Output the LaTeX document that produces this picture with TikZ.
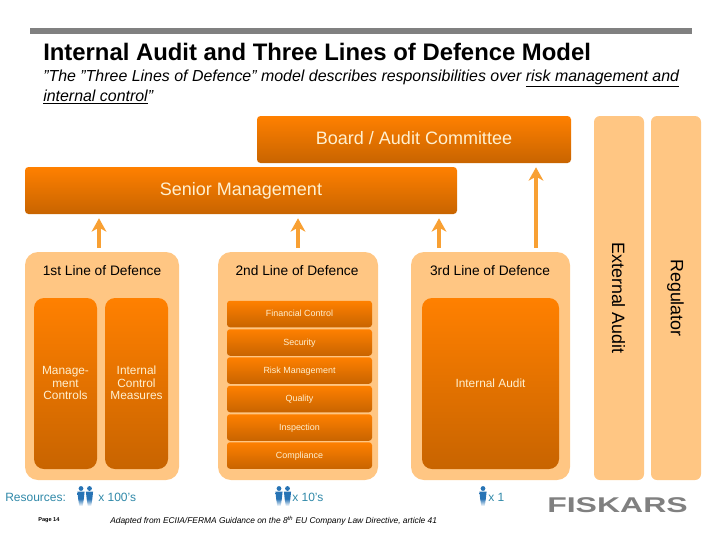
\documentclass[tikz,border=0pt]{standalone}
\usepackage{fontspec}
\setmainfont{Liberation Sans}
\usetikzlibrary{calc,arrows.meta,positioning}
\definecolor{barorange}{HTML}{FF8000}
\definecolor{bardark}{HTML}{C86400}
\definecolor{paleorange}{HTML}{FFC683}
\definecolor{arroworange}{HTML}{F8A033}
\definecolor{creamtext}{HTML}{FFF0D0}
\definecolor{resblue}{HTML}{2F88A8}
\definecolor{rulegray}{HTML}{808080}
\def\u{0.75pt}

\begin{document}
\begin{tikzpicture}[
		x=0.75pt,
		y=-0.75pt,
		line join=round,
		>={Stealth[length=10pt,width=11pt,inset=3pt]},
		bar/.style={top color=barorange, middle color=barorange, bottom color=bardark, text=creamtext, inner sep=0pt, align=center},
		bigbar/.style={bar, rounded corners=3.5*\u, text height=9.8pt, text depth=2.2pt, font=\fontsize{13.5}{15}\selectfont},
		column/.style={bar, rounded corners=10*\u, minimum width=63*\u, minimum height=171*\u, font=\fontsize{8.9}{9.5}\selectfont},
		strip/.style={bar, rounded corners=3*\u, minimum width=145*\u, minimum height=26.5*\u, text height=5pt, text depth=1.2pt, font=\fontsize{6.7}{8}\selectfont},
		panel/.style={fill=paleorange, rounded corners=13*\u, inner sep=0pt},
		side/.style={fill=paleorange, rounded corners=6*\u, inner sep=0pt, minimum width=50*\u, minimum height=364*\u},
		linelab/.style={font=\fontsize{10.3}{12}\selectfont},
		sidelab/.style={rotate=-90, font=\fontsize{13.4}{15}\selectfont},
		uparrow/.style={->, arroworange, line width=3pt, shorten >=4*\u, shorten <=4*\u},
		reslab/.style={text=resblue, inner sep=0pt, font=\fontsize{9}{11}\selectfont},
		person/.pic={
			\fill[resblue!85!blue] (0,-8.5) circle (2.4);
			\shade[top color=resblue!85!blue, bottom color=white, middle color=resblue!85!blue] (-3.6,-5.5) -- (3.6,-5.5) -- (2.8,2) -- (1.7,9) -- (-1.7,9) -- (-2.8,2) -- cycle;
		}
	]
	\useasboundingbox (0,0) rectangle (720,540);
	
	% Header
	\fill[rulegray] (30,28) rectangle (692,34);
	\node[anchor=west, inner sep=0pt, font=\bfseries\fontsize{17.9}{20}\selectfont] (title) at (43,52) {Internal Audit and Three Lines of Defence Model};
	\node[anchor=north west, inner sep=0pt, align=left, font=\itshape\fontsize{11.95}{15}\selectfont] (intro) at (43,69.5) {”The ”Three Lines of Defence” model describes responsibilities over \underline{risk management and}\\\underline{internal control}”};
	
	% Top bars
	\node[bigbar, minimum width=314*\u, minimum height=47*\u] (board) at (414,139.5) {Board / Audit Committee};
	\node[bigbar, minimum width=432*\u, minimum height=47*\u] (senior) at (241,190.5) {Senior Management};
	
	% Panels
	\node[panel, minimum width=154*\u, minimum height=228*\u] (line1) at (102,366) {};
	\node[panel, minimum width=160*\u, minimum height=228*\u] (line2) at (298,366) {};
	\node[panel, minimum width=159*\u, minimum height=228*\u] (line3) at (490.5,366) {};
	\node[side] (external) at (619,298) {};
	\node[side] (regulator) at (676,298) {};
	\node[sidelab] (externallab) at (618.5,298) {External Audit};
	\node[sidelab] (regulatorlab) at (675.5,298) {Regulator};
	
	% Panel titles
	\node[linelab] (title1) at (102,271) {1st Line of Defence};
	\node[linelab] (title2) at (297,271) {2nd Line of Defence};
	\node[linelab] (title3) at (490,271) {3rd Line of Defence};
	
	% First line columns
	\node[column] (mgmt) at (65.5,383.5) {};
	\node[column] (measures) at (136.5,383.5) {};
	\node[text=creamtext, align=center, inner sep=0pt, font=\fontsize{8.9}{9.5}\selectfont] (mgmtlab) at (65.5,383) {Manage-\\ment\\Controls};
	\node[text=creamtext, align=center, inner sep=0pt, font=\fontsize{8.9}{9.5}\selectfont] (measureslab) at (136.5,383) {Internal\\Control\\Measures};
	
	% Second line strips
	\foreach \n/\t/\c in {fin/Financial Control/314, sec/Security/342.5, risk/Risk Management/370.5, qual/Quality/399, insp/Inspection/427.5, comp/Compliance/455.5} {
		\node[strip] (\n) at (299.5,\c) {\t};
	}
	
	% Third line block
	\node[column, minimum width=137*\u] (internal) at (490.5,383.5) {Internal Audit};
	
	% Reporting arrows
	\draw[uparrow] (99,0 |- line1.north) -- (99,0 |- senior.south);
	\draw[uparrow] (298,0 |- line2.north) -- (298,0 |- senior.south);
	\draw[uparrow] (439,0 |- line3.north) -- (439,0 |- senior.south);
	\draw[uparrow] (536,0 |- line3.north) -- (536,0 |- board.south);
	
	% Resources
	\node[reslab, anchor=west] (resources) at (5,497) {Resources:};
	\pic at (81,497) {person};
	\pic at (89.5,497) {person};
	\node[reslab, anchor=west] (res1) at (98,497) {x 100's};
	\pic at (279,497) {person};
	\pic at (287.5,497) {person};
	\node[reslab, anchor=west] (res2) at (292,497) {x 10's};
	\pic at (483,497) {person};
	\node[reslab, anchor=west] (res3) at (488,497) {x 1};
	
	% Footer
	\node[anchor=west, inner sep=0pt, font=\bfseries\fontsize{4.2}{5}\selectfont] (page) at (38,520) {Page 14};
	\node[anchor=west, inner sep=0pt, font=\itshape\fontsize{6.3}{7}\selectfont] (source) at (110,521) {Adapted from ECIIA/FERMA Guidance on the 8\textsuperscript{th} EU Company Law Directive, article 41};
	\node[text=rulegray, inner sep=0pt, font=\bfseries\fontsize{16}{18}\selectfont] (logo) at (617.5,505.5) {\scalebox{1.5}[1]{FISKARS}};
	
\end{tikzpicture}
\end{document}
